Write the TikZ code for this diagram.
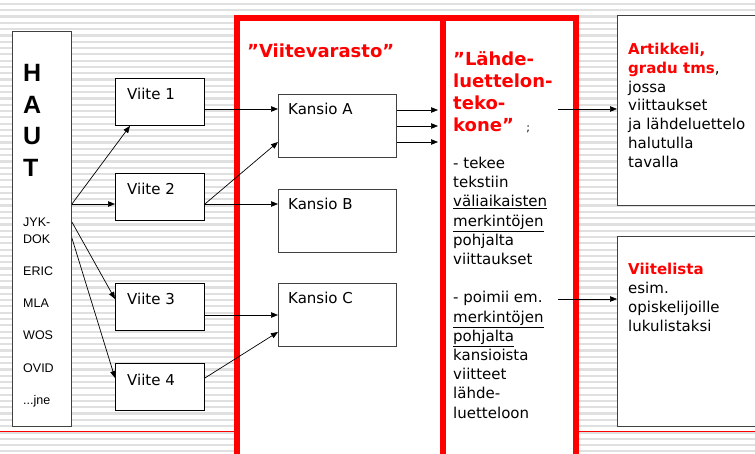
\documentclass[tikz,border=0pt]{standalone}
\usepackage{fontspec}
\setmainfont{DejaVu Sans}
\newfontfamily\arialfont{Liberation Sans}
\usetikzlibrary{arrows.meta, positioning, calc}
\definecolor{stripe}{gray}{0.88}
\definecolor{boxline}{gray}{0.25}

\tikzset{
  viite/.style={draw=black, fill=white, line width=0.9pt, minimum width=89pt, minimum height=47pt, inner sep=0pt, anchor=north west},
  kansio/.style={draw=boxline, fill=white, line width=0.9pt, minimum width=118pt, minimum height=63pt, inner sep=0pt, anchor=north west},
  column/.style={draw=red, fill=white, line width=6pt, minimum height=470pt, inner sep=0pt, anchor=north west},
  result/.style={draw=boxline, fill=white, line width=1pt, minimum width=160pt, minimum height=190pt, inner sep=0pt, anchor=north west},
  boxtext/.style={inner sep=0pt, anchor=base west, font=\fontsize{15}{19}\selectfont},
  note/.style={inner sep=0pt, anchor=north west, align=left, font=\fontsize{15}{19.2}\selectfont},
  redhead/.style={inner sep=0pt, anchor=base west, align=left, text=red, font=\bfseries\fontsize{18}{21.8}\selectfont},
  hautletter/.style={inner sep=0pt, anchor=base west, font=\arialfont\bfseries\fontsize{25}{25}\selectfont},
  source/.style={inner sep=0pt, anchor=base west, font=\arialfont\fontsize{12.5}{15}\selectfont},
  arr/.style={-{Triangle[length=7pt,width=5.5pt]}, line width=0.7pt},
}

\begin{document}
\begin{tikzpicture}[x=1pt, y=-1pt]
  \clip (0,0) rectangle (755,454);
  \fill[white] (0,0) rectangle (755,454);

  % striped slide background
  \foreach \yy in {4,10.3,...,454}
    \draw[stripe, line width=2.2pt] (0,\yy) -- (755,\yy);
  \draw[red, line width=0.8pt] (0,431) -- (755,431);

  % the two red columns
  \node[column, minimum width=206pt] (store) at (234,15) {};
  \node[column, minimum width=133pt] (tool) at (440,15) {};

  % HAUT
  \node[draw=boxline, fill=white, line width=0.9pt, minimum width=59pt, minimum height=395pt,
        inner sep=0pt, anchor=north west] (haut) at (12,31) {};
  \foreach \ch [count=\i] in {H,A,U,T}
    \node[hautletter] (h\i) at ($(haut.north west)+(11,{51+31.5*(\i-1)})$) {\ch};
  \foreach \src/\yb [count=\i] in {JYK-/227, DOK/244, ERIC/276, MLA/308, WOS/340, OVID/372}
    \node[source] (src\i) at (23,\yb) {\src};
  \node[source] (src7) at (23,404) {.\kern0pt.\kern0pt.jne};

  % Viite boxes
  \node[viite] (v1) at (115,78) {};
  \node[viite] (v2) at (115,173) {};
  \node[viite] (v3) at (115,283) {};
  \node[viite] (v4) at (115,363) {};
  \foreach \i in {1,...,4}
    \node[boxtext] (vt\i) at ($(v\i.north west)+(12,22)$) {Viite \i};

  % Kansio boxes
  \node[redhead] (storehead) at (247,58) {”Viitevarasto”};
  \node[kansio] (ka) at (278,94) {};
  \node[kansio] (kb) at (278,189) {};
  \node[kansio] (kc) at (278,283) {};
  \foreach \k/\K in {a/A,b/B,c/C}
    \node[boxtext] (k\k t) at ($(k\k.north west)+(10,21)$) {Kansio \K};

  % tool column text
  \node[redhead, anchor=north west] (toolhead) at (453,51.5)
    {”Lähde-\\luettelon-\\teko-\\kone”\ \ {\color{black}\mdseries\fontsize{11}{11}\selectfont ;}};
  \node[note] (tooltext) at (453,157)
    {- tekee\\tekstiin\\\underline{väliaikaisten}\\\underline{merkintöjen}\\pohjalta\\viittaukset\\[19.2pt]
     - poimii em.\\\underline{merkintöjen}\\\underline{pohjalta}\\kansioista\\viitteet\\lähde-\\luetteloon};

  % results
  \node[result] (art) at (617,15) {};
  \node[result] (vl) at (617,236) {};
  \node[note, font=\fontsize{15}{18.8}\selectfont] (arttext) at ($(art.north west)+(11,28)$)
    {\textcolor{red}{\bfseries Artikkeli,}\\\textcolor{red}{\bfseries gradu tms},\\jossa\\viittaukset\\ja lähdeluettelo\\halutulla\\tavalla};
  \node[note, font=\fontsize{15}{19}\selectfont] (vltext) at ($(vl.north west)+(11,27)$)
    {\textcolor{red}{\bfseries Viitelista}\\esim.\\opiskelijoille\\lukulistaksi};

  % connectors
  \coordinate (hout1) at ($(haut.north east)+(0,173)$);
  \coordinate (hout2) at ($(haut.north east)+(0,191)$);
  \coordinate (hout3) at ($(haut.north east)+(0,207)$);
  \draw[arr] (hout1) -- ($(v1.south west)+(15,0)$);
  \draw[arr] (hout1) -- (hout1 -| v2.west);
  \draw[arr] (hout2) -- ($(v3.north west)+(0,16)$);
  \draw[arr] (hout3) -- ($(v4.north west)+(0,15)$);

  \coordinate (v1out) at ($(v1.north east)+(0,31)$);
  \coordinate (v2out) at ($(v2.north east)+(0,31)$);
  \coordinate (v3out) at ($(v3.north east)+(0,32)$);
  \coordinate (v4out) at ($(v4.north east)+(0,15)$);
  \draw[arr] (v1out) -- (v1out -| ka.west);
  \draw[arr] (v2out) -- ($(ka.north west)+(0,48)$);
  \draw[arr] (v2out) -- (v2out -| kb.west);
  \draw[arr] (v3out) -- (v3out -| kc.west);
  \draw[arr] (v4out) -- ($(kc.north west)+(0,49)$);

  \foreach \dy in {16,32,48}
    \draw[arr, shorten >=2pt] ($(ka.north east)+(0,\dy)$) -- ($(ka.north east -| tool.west)+(0,\dy)$);

  \coordinate (tout1) at ($(tool.north west)+(118,94)$);
  \coordinate (tout2) at ($(tool.north west)+(118,284)$);
  \draw[arr] (tout1) -- (tout1 -| art.west);
  \draw[arr] (tout2) -- (tout2 -| vl.west);
\end{tikzpicture}
\end{document}
